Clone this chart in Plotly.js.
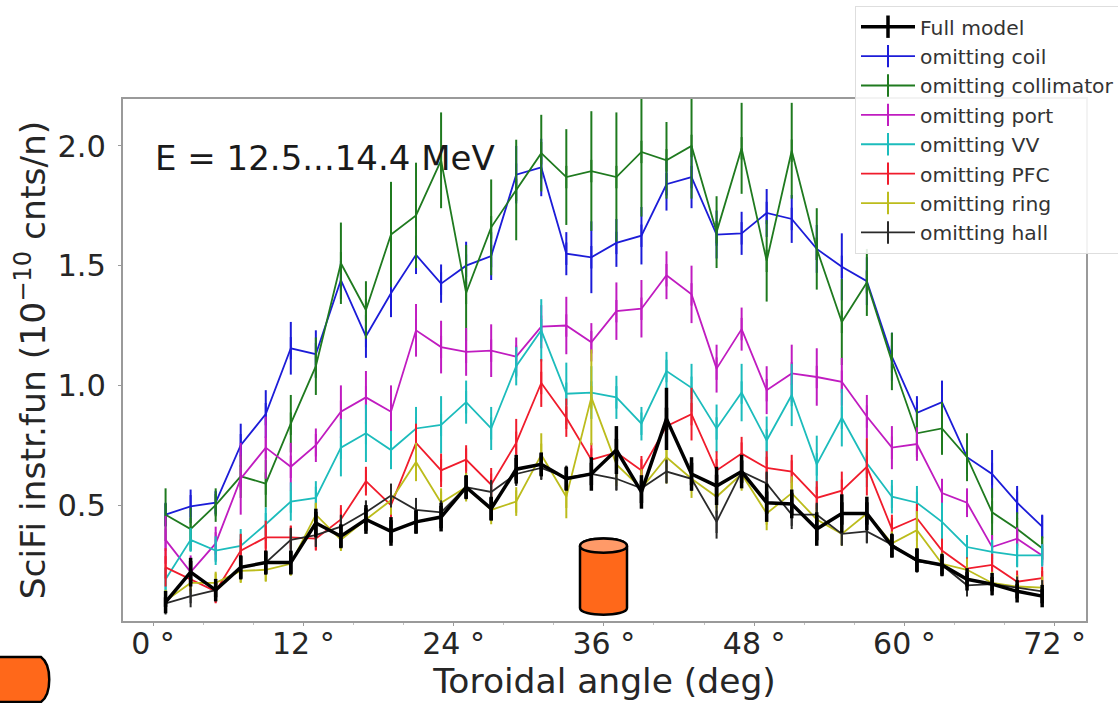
<!DOCTYPE html>
<html>
<head>
<meta charset="utf-8">
<script src="https://cdn.plot.ly/plotly-3.0.1.min.js"></script>
<style>html,body{margin:0;padding:0;background:#fff;overflow:hidden}#chart{width:1118px;height:703px}</style>
</head>
<body>
<div id="chart"></div>
<script>
const angles = [1,3,5,7,9,11,13,15,17,19,21,23,25,27,29,31,33,35,37,39,41,43,45,47,49,51,53,55,57,59,61,63,65,67,69,71];
const tickValues = [0,12,24,36,48,60,72];
const tickLabels = ['0 °','12 °','24 °','36 °','48 °','60 °','72 °'];

const fullModel = [.095,.22,.145,.24,.26,.26,.425,.37,.44,.39,.43,.45,.575,.485,.65,.67,.61,.63,.73,.555,.86,.63,.58,.64,.51,.505,.40,.465,.465,.33,.27,.25,.19,.17,.14,.12];
const fullErr   = [.02,.06,.03,.05,.05,.05,.06,.05,.06,.06,.05,.06,.05,.05,.06,.05,.05,.07,.10,.07,.13,.07,.08,.07,.08,.06,.07,.08,.07,.05,.05,.04,.03,.03,.03,.03];
const coil      = [.46,.495,.51,.75,.88,1.155,1.13,1.44,1.205,1.385,1.545,1.425,1.50,1.54,1.88,1.91,1.55,1.535,1.595,1.625,1.84,1.87,1.63,1.635,1.72,1.695,1.57,1.495,1.435,1.12,.885,.93,.70,.63,.51,.41];
const coilErr   = [.05,.07,.05,.09,.10,.11,.10,.08,.09,.10,.08,.08,.10,.10,.12,.12,.09,.15,.10,.12,.11,.13,.10,.09,.10,.10,.10,.14,.10,.10,.07,.09,.07,.10,.07,.05];
const collimator= [.46,.40,.50,.62,.59,.84,1.08,1.51,1.315,1.63,1.71,1.94,1.386,1.66,1.816,1.97,1.87,1.895,1.87,1.975,1.94,2.0,1.64,1.99,1.52,1.98,1.57,1.265,1.43,1.10,.80,.82,.70,.47,.40,.32];
const collimatorErr=[.11,.09,.07,.09,.10,.12,.12,.17,.12,.22,.22,.20,.20,.20,.21,.16,.20,.25,.27,.27,.16,.22,.15,.19,.17,.20,.17,.18,.14,.12,.10,.11,.10,.10,.07,.05];
const port      = [.355,.22,.34,.61,.74,.66,.75,.89,.95,.89,1.23,1.16,1.14,1.145,1.12,1.245,1.25,1.18,1.31,1.32,1.46,1.38,1.07,1.235,.98,1.05,1.035,1.015,.87,.74,.755,.55,.51,.325,.36,.29];
const portErr   = [.10,.07,.07,.15,.13,.10,.07,.11,.11,.11,.11,.11,.10,.11,.08,.09,.12,.08,.12,.12,.10,.12,.10,.09,.10,.12,.12,.10,.09,.09,.07,.06,.06,.05,.04,.03];
const vv        = [.19,.355,.31,.33,.42,.515,.53,.74,.80,.73,.82,.835,.93,.82,1.08,1.23,.965,.97,.95,.84,1.06,.99,.82,.97,.77,.96,.67,.865,.675,.535,.51,.43,.325,.305,.29,.29];
const vvErr     = [.05,.05,.06,.07,.07,.08,.07,.12,.12,.08,.09,.12,.09,.09,.08,.13,.13,.11,.09,.07,.08,.10,.10,.12,.10,.13,.12,.12,.10,.07,.07,.08,.05,.05,.05,.04];
const pfc       = [.24,.19,.14,.31,.365,.365,.36,.44,.60,.50,.76,.645,.69,.585,.76,1.01,.865,.69,.72,.645,.83,.88,.645,.715,.655,.64,.53,.56,.66,.40,.445,.31,.235,.25,.18,.195];
const pfcErr    = [.08,.05,.05,.07,.07,.05,.05,.06,.06,.05,.08,.07,.06,.07,.10,.10,.08,.07,.08,.06,.08,.11,.08,.07,.07,.07,.07,.08,.12,.06,.06,.05,.03,.03,.03,.03];
const ring      = [.10,.175,.175,.225,.23,.255,.46,.355,.44,.52,.68,.51,.575,.48,.515,.71,.535,.95,.67,.57,.70,.61,.535,.63,.465,.55,.44,.38,.465,.34,.395,.255,.23,.175,.16,.155];
const ringErr   = [.03,.04,.04,.05,.05,.05,.05,.04,.05,.06,.08,.06,.06,.06,.06,.09,.09,.20,.09,.08,.11,.08,.07,.07,.07,.07,.06,.05,.07,.05,.08,.04,.03,.03,.03,.02];
const hall      = [.09,.12,.145,.24,.26,.355,.375,.41,.47,.54,.48,.47,.575,.555,.63,.655,.615,.63,.61,.57,.64,.61,.43,.64,.59,.46,.46,.38,.39,.335,.265,.25,.165,.17,.155,.14];
const hallErr   = [.02,.03,.03,.05,.05,.05,.05,.05,.05,.05,.05,.05,.05,.05,.05,.05,.05,.05,.05,.05,.05,.05,.07,.05,.05,.06,.05,.05,.05,.04,.04,.03,.03,.02,.02,.02];

function series(name, y, err, color, width, markWidth, rank) {
  return {
    type: 'scatter', mode: 'lines+markers', name: name, x: angles, y: y,
    legendrank: rank,
    line: {color: color, width: width},
    marker: {symbol: 'line-ns', size: 16, color: color, line: {color: color, width: markWidth}},
    error_y: {type: 'data', array: err, visible: true, width: 0, thickness: markWidth, color: color}
  };
}
const traces = [
  series('omitting coil', coil, coilErr, '#1c1cd8', 1.8, 2, 2),
  series('omitting collimator', collimator, collimatorErr, '#1f7a1f', 1.8, 2, 3),
  series('omitting port', port, portErr, '#c01cc0', 1.8, 2, 4),
  series('omitting VV', vv, vvErr, '#1cbcbc', 1.8, 2, 5),
  series('omitting PFC', pfc, pfcErr, '#f01c2c', 1.8, 2, 6),
  series('omitting ring', ring, ringErr, '#bcbc1c', 1.8, 2, 7),
  series('omitting hall', hall, hallErr, '#2a2a2a', 1.8, 2, 8),
  series('Full model', fullModel, fullErr, '#000000', 3.5, 3.5, 1)
];

const W = 1118, H = 703, L = 123, T = 99, PW = 963, PH = 522;
const px = v => (v - L) / PW, py = v => 1 - (v - T) / PH;
const pt = (x, y) => px(x) + ',' + py(y);
const ORANGE = '#ff681a', EDGE = '#000000';
function shape(path, fill) {
  return {type: 'path', xref: 'paper', yref: 'paper', layer: 'above', path: path, fillcolor: fill, line: {color: EDGE, width: 2.5}};
}
const shapes = [
  shape('M' + pt(580,546) + ' C' + pt(580,536) + ' ' + pt(627,536) + ' ' + pt(627,546) + ' L' + pt(627,608) + ' C' + pt(627,617) + ' ' + pt(580,617) + ' ' + pt(580,608) + ' Z', ORANGE),
  shape('M' + pt(580,546) + ' C' + pt(580,536) + ' ' + pt(627,536) + ' ' + pt(627,546) + ' C' + pt(627,555) + ' ' + pt(580,555) + ' ' + pt(580,546) + ' Z', '#ff9a68'),
  shape('M' + pt(-10,657) + ' L' + pt(41,657) + ' C' + pt(52,665) + ' ' + pt(52,694) + ' ' + pt(41,702) + ' L' + pt(-10,702) + ' Z', ORANGE)
];

const FONT = 'DejaVu Sans, sans-serif', INK = '#262626', FRAME = '#9a9a9a';
const layout = {
  width: W, height: H,
  margin: {l: L, t: T, r: W - L - PW, b: H - T - PH, pad: 0, autoexpand: false},
  paper_bgcolor: '#ffffff', plot_bgcolor: '#ffffff',
  showlegend: true,
  font: {family: FONT, color: INK},
  xaxis: {
    range: [-2.4, 74.5], tickmode: 'array', tickvals: tickValues, ticktext: tickLabels,
    showgrid: false, zeroline: false, showline: true, mirror: true, linecolor: FRAME, linewidth: 2,
    ticks: 'outside', ticklen: 3, tickcolor: FRAME, tickwidth: 1, ticklabelstandoff: -8,
    minor: {tickmode: 'array', tickvals: [4,8,16,20,28,32,40,44,52,56,64,68], ticks: 'outside', ticklen: 2, tickcolor: '#c0c0c0', showgrid: false},
    tickfont: {family: FONT, size: 30, color: INK},
    title: {text: 'Toroidal angle (deg)', font: {family: FONT, size: 34.5, color: INK}, standoff: 2}
  },
  yaxis: {
    range: [0.016, 2.196], tickvals: [0.5, 1.0, 1.5, 2.0], ticktext: ['0.5','1.0','1.5','2.0'],
    showgrid: false, zeroline: false, showline: true, mirror: true, linecolor: FRAME, linewidth: 2,
    ticks: 'outside', ticklen: 3, tickcolor: FRAME, tickwidth: 1, ticklabelstandoff: 6,
    tickfont: {family: FONT, size: 30.5, color: INK},
    title: {text: 'SciFi instr.fun (10<sup>−10</sup> cnts/n)', font: {family: FONT, size: 34.5, color: INK}, standoff: 1}
  },
  legend: {
    x: (855 - L) / PW, xanchor: 'left', y: 1 + (T - 6) / PH, yanchor: 'top',
    bgcolor: 'rgba(255,255,255,0.88)', bordercolor: '#dedede', borderwidth: 1,
    font: {family: FONT, size: 20.3, color: '#333333'},
    itemwidth: 54, itemsizing: 'trace', traceorder: 'normal', itemclick: false, itemdoubleclick: false
  },
  annotations: [{
    xref: 'x', yref: 'y', x: 0, y: 1.95, xanchor: 'left', yanchor: 'middle', showarrow: false,
    text: 'E = 12.5...14.4 MeV', font: {family: FONT, size: 34, color: '#1a1a1a'}
  }],
  shapes: shapes
};
Plotly.newPlot('chart', traces, layout, {displayModeBar: false});
</script>
</body>
</html>
